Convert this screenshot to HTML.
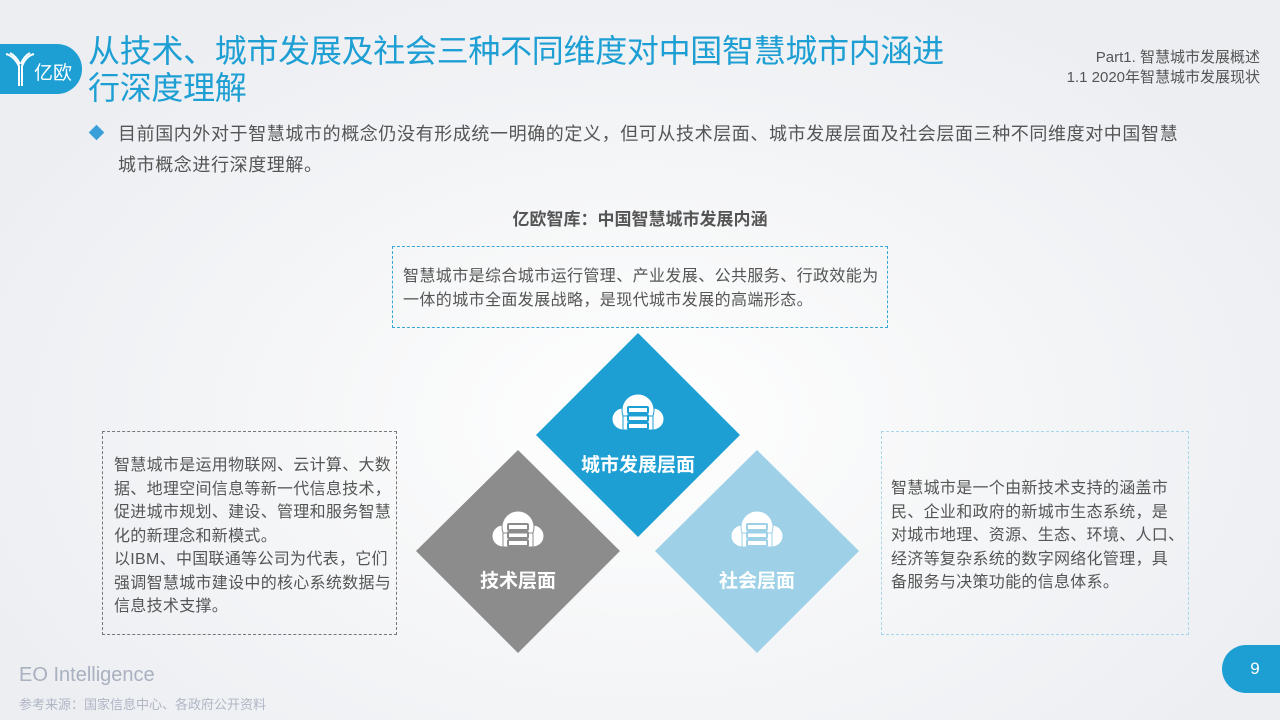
<!DOCTYPE html>
<html><head><meta charset="utf-8">
<style>
*{margin:0;padding:0;box-sizing:border-box}
body{width:1280px;height:720px;overflow:hidden;position:relative;font-family:"Liberation Sans","Noto Sans CJK SC",sans-serif;background:radial-gradient(ellipse at 640px 420px,#ffffff 0%,#f6f7f8 35%,#eceef2 80%);}
.a{position:absolute;white-space:nowrap}
.box{position:absolute;border:1.5px dashed;font-size:16px;line-height:23.5px;color:#555;letter-spacing:0.3px;white-space:nowrap}
.dtext{position:absolute;color:#fff;font-weight:bold;font-size:19px;text-align:center;width:200px}
</style></head><body>
<div class="a" style="left:0;top:44px;width:82px;height:50px;background:#1d9fd4;border-radius:0 25px 25px 0"></div>
<svg class="a" style="left:4px;top:50px" width="34" height="38" viewBox="0 0 34 38"><g fill="none" stroke="#fff" stroke-width="2"><path d="M2 4 Q10 6 15 16 V36"/><path d="M6 3 Q12 6 16 14"/><path d="M30 4 Q22 6 18 16 V36"/><path d="M26 3 Q20 6 17 14"/></g></svg>
<div class="a" style="left:34px;top:58px;color:#fff;font-size:19px">亿欧</div>
<div class="a" style="left:88px;top:33px;color:#1d9fd4;font-size:32px;line-height:37px;letter-spacing:-0.3px">从技术、城市发展及社会三种不同维度对中国智慧城市内涵进<br>行深度理解</div>
<div class="a" style="right:20px;top:48px;color:#555;font-size:15px;line-height:20px;text-align:right">Part1. 智慧城市发展概述<br>1.1 2020年智慧城市发展现状</div>
<div class="a" style="left:91px;top:127px;width:11px;height:11px;background:#3a9fd8;transform:rotate(45deg)"></div>
<div class="a" style="left:118px;top:119px;color:#555;font-size:18px;line-height:31px;letter-spacing:0.6px">目前国内外对于智慧城市的概念仍没有形成统一明确的定义，但可从技术层面、城市发展层面及社会层面三种不同维度对中国智慧<br>城市概念进行深度理解。</div>
<div class="a" style="left:0;width:1280px;top:205px;text-align:center;color:#555;font-weight:bold;font-size:17px">亿欧智库：中国智慧城市发展内涵</div>
<div class="box" style="left:392px;top:246px;width:496px;height:82px;border-color:#3aa6d8;padding:18px 0 0 10px;letter-spacing:0.4px">智慧城市是综合城市运行管理、产业发展、公共服务、行政效能为<br>一体的城市全面发展战略，是现代城市发展的高端形态。</div>
<div class="box" style="left:102px;top:431px;width:295px;height:204px;border-color:#777;padding:22px 0 0 11px">智慧城市是运用物联网、云计算、大数<br>据、地理空间信息等新一代信息技术，<br>促进城市规划、建设、管理和服务智慧<br>化的新理念和新模式。<br>以IBM、中国联通等公司为代表，它们<br>强调智慧城市建设中的核心系统数据与<br>信息技术支撑。</div>
<div class="box" style="left:881px;top:431px;width:308px;height:204px;border-color:#a8d6ec;padding:45px 0 0 9px">智慧城市是一个由新技术支持的涵盖市<br>民、企业和政府的新城市生态系统，是<br>对城市地理、资源、生态、环境、人口、<br>经济等复杂系统的数字网络化管理，具<br>备服务与决策功能的信息体系。</div>
<svg class="a" style="left:0;top:0" width="1280" height="720">
<defs><g id="c"><circle cx="-15" cy="3" r="11" fill="#fff"/><circle cx="15" cy="3" r="11" fill="#fff"/><circle cx="0" cy="-6" r="16" fill="#fff"/><rect x="-15" y="0" width="30" height="14" fill="#fff"/><g fill="none" stroke-width="2"><rect x="-10" y="-9" width="20" height="6" rx="1"/><rect x="-10" y="-1" width="20" height="6" rx="1"/><rect x="-10" y="7" width="20" height="6" rx="1"/></g></g></defs>
<polygon points="638,333 740,435 638,537 536,435" fill="#1d9fd4"/>
<polygon points="518,450 620,551 518,653 416,551" fill="#8c8c8c"/>
<polygon points="757,450 859,551 757,653 655,551" fill="#9ed1e7"/>
<use href="#c" x="638" y="416" stroke="#1d9fd4"/>
<use href="#c" x="518" y="533" stroke="#8c8c8c"/>
<use href="#c" x="757" y="533" stroke="#9ed1e7"/>
</svg>
<div class="dtext" style="left:538px;top:450px">城市发展层面</div>
<div class="dtext" style="left:418px;top:566px">技术层面</div>
<div class="dtext" style="left:657px;top:566px">社会层面</div>
<div class="a" style="left:19px;top:664px;color:#a9b0bf;font-size:20px">EO Intelligence</div>
<div class="a" style="left:19px;top:694px;color:#b0b6c4;font-size:13px">参考来源：国家信息中心、各政府公开资料</div>
<div class="a" style="left:1222px;top:645px;width:58px;height:48px;background:#1d9fd4;border-radius:24px 0 0 24px;color:#fff;font-size:17px;text-align:center;line-height:48px;padding-left:8px">9</div>
</body></html>
